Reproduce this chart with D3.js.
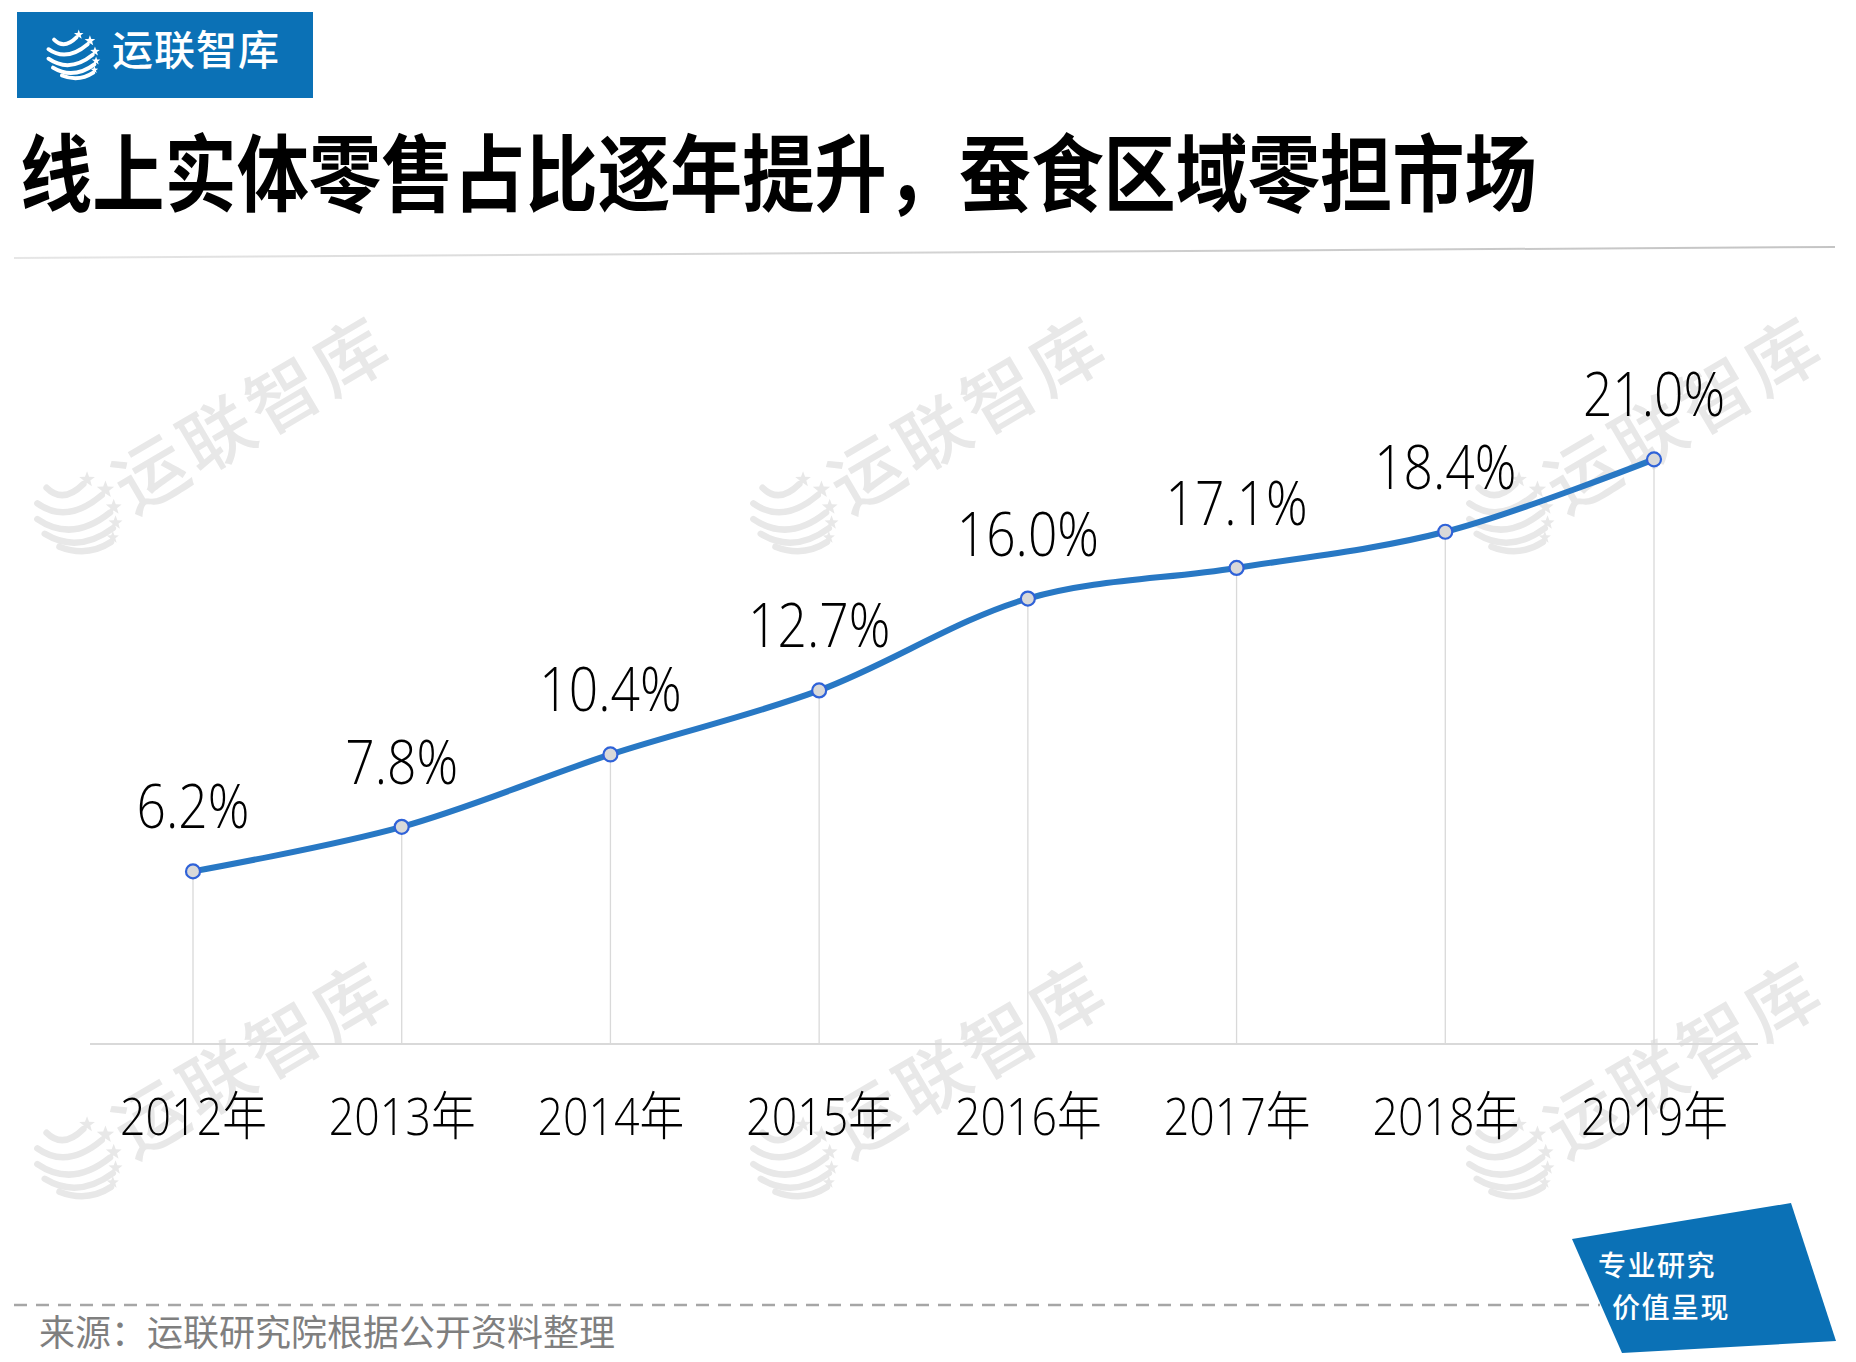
<!DOCTYPE html>
<html>
<head>
<meta charset="utf-8">
<script src="https://cdn.jsdelivr.net/npm/d3@7"></script>
<style>
  html, body { margin: 0; padding: 0; background: #fff; }
  svg { display: block; }
</style>
</head>
<body>
<svg id="chart" width="1856" height="1362"></svg>
<script>
// ---- data ----
const years = ["2012年", "2013年", "2014年", "2015年", "2016年", "2017年", "2018年", "2019年"];
const shares = [6.2, 7.8, 10.4, 12.7, 16.0, 17.1, 18.4, 21.0];
const valueLabels = ["6.2%", "7.8%", "10.4%", "12.7%", "16.0%", "17.1%", "18.4%", "21.0%"];
const titleText = "线上实体零售占比逐年提升，蚕食区域零担市场";
const brandText = "运联智库";
const sourceText = "来源：运联研究院根据公开资料整理";
const badgeLines = ["专业研究", "价值呈现"];

const W = 1856, H = 1362;
const svg = d3.select("#chart");
const BLUE = "#0b71b6";
const NUM_FONT = "'Open Sans', 'Noto Sans CJK SC', sans-serif";
const CJK_FONT = "'Noto Sans CJK SC', 'Noto Sans', sans-serif";

// ---- logo icon (striped globe with stars) ----
function starPath(cx, cy, r) {
  const pts = [];
  for (let i = 0; i < 10; i++) {
    const a = -Math.PI / 2 + i * Math.PI / 5;
    const rr = i % 2 === 0 ? r : r * 0.42;
    pts.push([cx + rr * Math.cos(a), cy + rr * Math.sin(a)]);
  }
  return "M" + pts.map(p => p.join(",")).join("L") + "Z";
}
const stripes = [
  {d: "M18,28 Q36,46 58,24", s: [62, 19, 9]},
  {d: "M8,45 Q40,68 78,36", s: [82, 30, 10]},
  {d: "M8,62 Q46,88 87,55", s: [91, 49, 9]},
  {d: "M16,78 Q52,100 90,72", s: [93, 66, 8]},
  {d: "M32,92 Q62,104 88,87", s: [90, 82, 7]}
];
function drawIcon(g, color) {
  stripes.forEach(st => {
    g.append("path").attr("d", st.d).attr("fill", "none")
      .attr("stroke", color).attr("stroke-width", 7).attr("stroke-linecap", "round");
    g.append("path").attr("d", starPath(st.s[0], st.s[1], st.s[2])).attr("fill", color);
  });
}

// ---- watermarks ----
const wmLayer = svg.append("g");
const wmCols = [0, 716, 1432], wmRows = [0, 645];
wmRows.forEach(dy => wmCols.forEach(dx => {
  const g = wmLayer.append("g").attr("transform", `translate(${dx},${dy})`);
  drawIcon(g.append("g").attr("transform", "translate(30,462) scale(0.92)"), "#e8e8e8");
  g.append("text")
    .attr("transform", "translate(133,515) rotate(-30.5)")
    .attr("font-family", CJK_FONT).attr("font-size", 72).attr("font-weight", 500)
    .attr("letter-spacing", 5).attr("fill", "#e8e8e8")
    .text(brandText);
}));

// ---- header logo ----
svg.append("rect").attr("x", 17).attr("y", 12).attr("width", 296).attr("height", 86).attr("fill", BLUE);
drawIcon(svg.append("g").attr("transform", "translate(44,24) scale(0.56)"), "#ffffff");
svg.append("text").attr("x", 112).attr("y", 65)
  .attr("font-family", CJK_FONT).attr("font-size", 41).attr("font-weight", 500)
  .attr("fill", "#fff").attr("letter-spacing", 1).text(brandText);

// ---- title ----
svg.append("text")
  .attr("transform", "translate(20,205) scale(0.86,1)")
  .attr("font-family", CJK_FONT).attr("font-size", 84).attr("font-weight", 700)
  .attr("fill", "#000").text(titleText);

const sepGrad = svg.append("defs").append("linearGradient").attr("id", "sepg");
sepGrad.append("stop").attr("offset", "0").attr("stop-color", "#e6e6e6");
sepGrad.append("stop").attr("offset", "0.6").attr("stop-color", "#cfcfcf");
sepGrad.append("stop").attr("offset", "1").attr("stop-color", "#c4c4c4");
svg.append("path").attr("d", "M14,258 L1835,247").attr("stroke", "url(#sepg)").attr("stroke-width", 2);

// ---- scales ----
const x = d3.scalePoint().domain(years).range([193, 1654]);
const y = d3.scaleLinear().domain([0, 25]).range([1044, 348]);
const data = years.map((yr, i) => ({yr, v: shares[i], label: valueLabels[i]}));

// drop lines
svg.append("g").selectAll("line").data(data).join("line")
  .attr("x1", d => x(d.yr)).attr("x2", d => x(d.yr))
  .attr("y1", d => y(d.v)).attr("y2", y(0))
  .attr("stroke", "#d9d9d9").attr("stroke-width", 1.3);

// x axis
const axisG = svg.append("g").attr("transform", `translate(0,${y(0)})`)
  .call(d3.axisBottom(x).tickSize(0).tickSizeOuter(0).tickPadding(0));
axisG.select(".domain").attr("d", "M90,0H1758").attr("stroke", "#d9d9d9").attr("stroke-width", 2.2);
axisG.selectAll(".tick text")
  .attr("y", 91).attr("dy", 0)
  .attr("transform", "scale(0.86,1)")
  .attr("font-family", NUM_FONT).attr("font-size", 52).attr("font-weight", 300)
  .attr("fill", "#000");

// line
const line = d3.line().x(d => x(d.yr)).y(d => y(d.v)).curve(d3.curveCatmullRom.alpha(0.5));
svg.append("path").datum(data).attr("d", line)
  .attr("fill", "none").attr("stroke", "#2878c4").attr("stroke-width", 6)
  .attr("stroke-linecap", "round");

// points
svg.append("g").selectAll("circle").data(data).join("circle")
  .attr("cx", d => x(d.yr)).attr("cy", d => y(d.v)).attr("r", 7)
  .attr("fill", "#d9d9d9").attr("stroke", "#2f62d8").attr("stroke-width", 2.2);

// value labels
svg.append("g").selectAll("text").data(data).join("text")
  .attr("transform", d => `translate(${x(d.yr)},${y(d.v) - 43}) scale(0.86,1)`)
  .attr("text-anchor", "middle")
  .attr("font-family", NUM_FONT).attr("font-size", 60).attr("font-weight", 300)
  .attr("fill", "#000").text(d => d.label);

// ---- footer ----
svg.append("line").attr("x1", 14).attr("x2", 1600).attr("y1", 1305).attr("y2", 1305)
  .attr("stroke", "#a6a6a6").attr("stroke-width", 2.5).attr("stroke-dasharray", "13,9");
svg.append("text").attr("x", 39).attr("y", 1346)
  .attr("font-family", CJK_FONT).attr("font-size", 36).attr("font-weight", 400)
  .attr("fill", "#7f7f7f").text(sourceText);

svg.append("path").attr("d", "M1572,1239 L1791,1203 L1836,1341 L1622,1353 Z").attr("fill", BLUE);
svg.append("g").selectAll("text").data(badgeLines).join("text")
  .attr("x", (d, i) => i === 0 ? 1598 : 1612)
  .attr("y", (d, i) => i === 0 ? 1276 : 1318)
  .attr("font-family", CJK_FONT).attr("font-size", 28).attr("font-weight", 500)
  .attr("letter-spacing", 1.5)
  .attr("fill", "#fff").text(d => d);
</script>
</body>
</html>
